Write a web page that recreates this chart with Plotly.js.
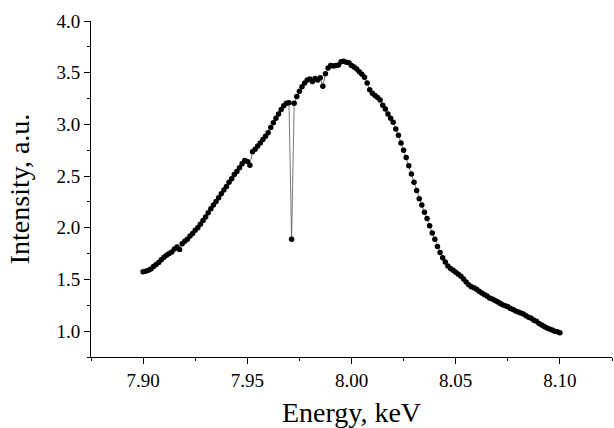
<!DOCTYPE html>
<html>
<head>
<meta charset="utf-8">
<script src="https://cdn.plot.ly/plotly-3.0.1.min.js"></script>
<style>html,body{margin:0;padding:0;background:#fff;}#chart{width:614px;height:428px;}</style>
</head>
<body>
<div id="chart"></div>
<script>
// Energy (keV) grid of the measured spectrum
var energy = [
7.90000,7.90125,7.90250,7.90375,7.90500,7.90625,7.90750,7.90875,7.91000,7.91125,
7.91250,7.91375,7.91500,7.91625,7.91750,7.91875,7.92000,7.92125,7.92250,7.92375,
7.92500,7.92625,7.92750,7.92875,7.93000,7.93125,7.93250,7.93375,7.93500,7.93625,
7.93750,7.93875,7.94000,7.94125,7.94250,7.94375,7.94500,7.94625,7.94750,7.94875,
7.95000,7.95125,7.95250,7.95375,7.95500,7.95625,7.95750,7.95875,7.96000,7.96125,
7.96250,7.96375,7.96500,7.96625,7.96750,7.96875,7.97000,7.97125,7.97250,7.97375,
7.97500,7.97625,7.97750,7.97875,7.98000,7.98125,7.98250,7.98375,7.98500,7.98625,
7.98750,7.98875,7.99000,7.99125,7.99250,7.99375,7.99500,7.99625,7.99750,7.99875,
8.00000,8.00125,8.00250,8.00375,8.00500,8.00625,8.00750,8.00875,8.01000,8.01125,
8.01250,8.01375,8.01500,8.01625,8.01750,8.01875,8.02000,8.02125,8.02250,8.02375,
8.02500,8.02625,8.02750,8.02875,8.03000,8.03125,8.03250,8.03375,8.03500,8.03625,
8.03750,8.03875,8.04000,8.04125,8.04250,8.04375,8.04500,8.04625,8.04750,8.04875,
8.05000,8.05125,8.05250,8.05375,8.05500,8.05625,8.05750,8.05875,8.06000,8.06125,
8.06250,8.06375,8.06500,8.06625,8.06750,8.06875,8.07000,8.07125,8.07250,8.07375,
8.07500,8.07625,8.07750,8.07875,8.08000,8.08125,8.08250,8.08375,8.08500,8.08625,
8.08750,8.08875,8.09000,8.09125,8.09250,8.09375,8.09500,8.09625,8.09750,8.09875,
8.10000
];
// Intensity (a.u.)
var intensity = [
1.575,1.580,1.590,1.600,1.625,1.645,1.665,1.690,1.715,1.735,
1.750,1.765,1.795,1.815,1.790,1.845,1.870,1.890,1.920,1.945,
1.975,2.000,2.035,2.070,2.105,2.145,2.185,2.220,2.255,2.290,
2.330,2.365,2.400,2.440,2.475,2.515,2.545,2.580,2.620,2.650,
2.640,2.605,2.735,2.760,2.790,2.820,2.855,2.885,2.920,2.970,
3.015,3.060,3.100,3.145,3.180,3.205,3.210,1.890,3.205,3.270,
3.320,3.365,3.400,3.430,3.440,3.415,3.445,3.430,3.450,3.370,
3.490,3.545,3.570,3.565,3.570,3.575,3.605,3.610,3.600,3.595,
3.570,3.555,3.535,3.510,3.485,3.455,3.400,3.335,3.300,3.280,
3.260,3.235,3.185,3.150,3.100,3.060,3.020,2.955,2.895,2.820,
2.750,2.680,2.600,2.520,2.440,2.360,2.280,2.220,2.150,2.090,
2.020,1.950,1.890,1.820,1.760,1.710,1.670,1.630,1.605,1.590,
1.570,1.550,1.530,1.505,1.475,1.450,1.430,1.420,1.405,1.385,
1.370,1.355,1.340,1.320,1.310,1.300,1.285,1.270,1.255,1.245,
1.235,1.220,1.210,1.195,1.185,1.175,1.165,1.150,1.135,1.125,
1.105,1.095,1.075,1.060,1.045,1.030,1.020,1.010,1.000,0.995,
0.985
];
var xTickVals = [7.90, 7.95, 8.00, 8.05, 8.10];
var xTickText = ["7.90", "7.95", "8.00", "8.05", "8.10"];
var yTickVals = [1.0, 1.5, 2.0, 2.5, 3.0, 3.5, 4.0];
var yTickText = ["1.0", "1.5", "2.0", "2.5", "3.0", "3.5", "4.0"];

var trace = {
  x: energy, y: intensity, type: 'scatter', mode: 'lines+markers',
  line: {color: '#555', width: 0.8},
  marker: {color: '#000', size: 5.5},
  hoverinfo: 'skip'
};
var fam = '"Liberation Serif", "Times New Roman", serif';
var layout = {
  width: 614, height: 428,
  margin: {l: 91, r: 2, t: 21, b: 71},
  paper_bgcolor: '#fff', plot_bgcolor: '#fff',
  showlegend: false,
  font: {family: fam, color: '#000', size: 19},
  xaxis: {
    range: [7.875, 8.125], showgrid: false, zeroline: false,
    showline: true, linecolor: '#000', linewidth: 1,
    tickmode: 'array', tickvals: xTickVals, ticktext: xTickText,
    ticks: 'outside', ticklen: 6, tickwidth: 1, tickcolor: '#000',
    minor: {tickmode: 'linear', tick0: 7.875, dtick: 0.025, ticks: 'outside', ticklen: 3, tickcolor: '#000', showgrid: false},
    tickfont: {family: fam, size: 19, color: '#000'},
    automargin: false,
    title: {text: 'Energy, keV', font: {family: fam, size: 28, color: '#000'}, standoff: 14}
  },
  yaxis: {
    range: [0.75, 4.0], showgrid: false, zeroline: false,
    showline: true, linecolor: '#000', linewidth: 1,
    tickmode: 'array', tickvals: yTickVals, ticktext: yTickText,
    ticks: 'outside', ticklen: 6, tickwidth: 1, tickcolor: '#000',
    minor: {tickmode: 'linear', tick0: 0.75, dtick: 0.25, ticks: 'outside', ticklen: 3, tickcolor: '#000', showgrid: false},
    tickfont: {family: fam, size: 19, color: '#000'},
    automargin: false,
    title: {text: 'Intensity, a.u.', font: {family: fam, size: 28, color: '#000'}, standoff: 18}
  }
};
Plotly.newPlot('chart', [trace], layout, {displayModeBar: false, staticPlot: true});
</script>
</body>
</html>
